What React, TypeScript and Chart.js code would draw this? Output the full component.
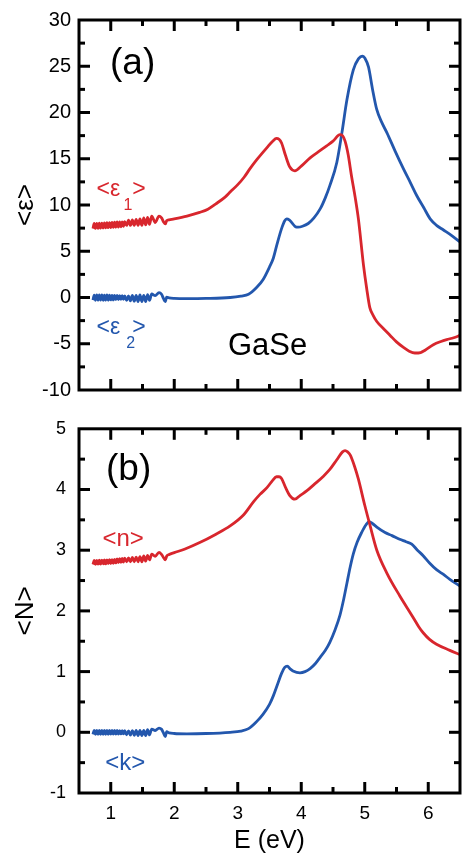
import React, { useEffect, useRef } from "react";
import { Chart, registerables } from "chart.js";
Chart.register(...registerables);

const RED = "#d8262d";
const BLUE = "#2357ad";
const FONT = "'Liberation Sans', Arial, Helvetica, sans-serif";

// shared low-energy grid (interference-fringe region)
const E_LOW = [0.72, 0.74, 0.76, 0.78, 0.8, 0.82, 0.84, 0.86, 0.88, 0.9, 0.92, 0.94, 0.96, 0.98, 1.0, 1.02, 1.04, 1.06, 1.08, 1.1, 1.12, 1.14, 1.16, 1.18, 1.2, 1.22,
  1.25, 1.28, 1.31, 1.34, 1.37, 1.4, 1.43, 1.46, 1.49, 1.52, 1.55, 1.58, 1.61, 1.645, 1.7, 1.76, 1.8, 1.83, 1.86, 1.88, 1.92, 2.0];

const EPS1_LOW = [7.45, 8.0, 7.47, 8.02, 7.48, 8.03, 7.5, 8.05, 7.52, 8.07, 7.53, 8.08, 7.55, 8.1, 7.57, 8.12, 7.58, 8.14, 7.6, 8.16, 7.62, 8.17, 7.65, 8.18, 7.7, 8.2,
  7.8, 8.35, 7.8, 8.4, 7.8, 8.45, 7.8, 8.5, 7.8, 8.6, 7.85, 8.65, 7.9, 8.8, 8.1, 8.8, 8.6, 8.2, 7.95, 8.3, 8.4, 8.5];
const E_EPS1_HI = [2.2, 2.4, 2.53, 2.65, 2.8, 2.88, 3.0, 3.1, 3.19, 3.3, 3.46, 3.55, 3.61, 3.65, 3.69, 3.75, 3.82, 3.9, 4.0, 4.14, 4.3, 4.4, 4.5, 4.61, 4.65, 4.69, 4.74, 4.79, 4.85, 4.9, 4.98, 5.03, 5.08, 5.13, 5.19, 5.3, 5.4, 5.5, 5.61, 5.7, 5.79, 5.88, 5.95, 6.08, 6.2, 6.29, 6.4, 6.5];
const EPS1_HI = [8.8, 9.2, 9.55, 10.1, 10.85, 11.4, 12.2, 13.0, 13.9, 14.9, 16.2, 16.9, 17.2, 17.1, 16.7, 15.4, 14.1, 13.7, 14.2, 15.1, 15.9, 16.4, 16.9, 17.6, 17.5, 16.9, 15.4, 13.2, 10.8, 8.5, 3.5, 1.0, -1.1, -1.9, -2.6, -3.4, -4.1, -4.8, -5.4, -5.8, -6.0, -5.95, -5.7, -5.1, -4.75, -4.55, -4.35, -4.1];

const EPS2_LOW = [-0.28, 0.25, -0.3, 0.27, -0.3, 0.27, -0.28, 0.27, -0.3, 0.25, -0.28, 0.27, -0.28, 0.25, -0.26, 0.23, -0.26, 0.23, -0.24, 0.22, -0.22, 0.2, -0.2, 0.2, -0.2, 0.18,
  -0.3, 0.18, -0.35, 0.22, -0.4, 0.22, -0.45, 0.27, -0.45, 0.22, -0.45, 0.32, -0.32, 0.38, 0.2, 0.52, 0.35, -0.1, -0.45, 0.05, -0.05, -0.1];
const E_EPS2_HI = [2.2, 2.5, 2.88, 3.05, 3.17, 3.3, 3.4, 3.5, 3.56, 3.62, 3.69, 3.74, 3.77, 3.81, 3.85, 3.9, 3.95, 4.02, 4.11, 4.2, 4.3, 4.38, 4.45, 4.56, 4.64, 4.72, 4.82, 4.9, 4.97, 5.0, 5.06, 5.12, 5.19, 5.27, 5.35, 5.48, 5.61, 5.72, 5.82, 5.93, 6.03, 6.13, 6.24, 6.37, 6.5];
const EPS2_HI = [-0.12, -0.1, 0.0, 0.15, 0.35, 1.1, 1.95, 3.3, 4.25, 5.8, 7.45, 8.3, 8.5, 8.4, 8.1, 7.7, 7.6, 7.7, 8.0, 8.6, 9.6, 10.8, 12.1, 14.6, 17.8, 21.4, 24.6, 25.8, 26.1, 25.9, 24.9, 22.6, 20.3, 18.9, 17.8, 15.8, 13.9, 12.4, 11.0, 9.7, 8.5, 7.8, 7.3, 6.7, 6.0];

const N_LOW = [2.765, 2.83, 2.765, 2.83, 2.77, 2.835, 2.77, 2.835, 2.775, 2.84, 2.775, 2.84, 2.78, 2.845, 2.78, 2.845, 2.785, 2.85, 2.79, 2.855, 2.795, 2.86, 2.8, 2.865, 2.805, 2.87,
  2.81, 2.875, 2.81, 2.88, 2.81, 2.885, 2.81, 2.895, 2.81, 2.905, 2.82, 2.915, 2.84, 2.935, 2.9, 2.965, 2.93, 2.88, 2.84, 2.9, 2.93, 2.96];
const E_N_HI = [2.17, 2.41, 2.65, 2.88, 3.09, 3.25, 3.35, 3.46, 3.55, 3.61, 3.65, 3.69, 3.75, 3.82, 3.9, 3.98, 4.09, 4.2, 4.35, 4.45, 4.56, 4.65, 4.69, 4.73, 4.77, 4.84, 4.9, 5.0, 5.08, 5.19, 5.35, 5.55, 5.74, 5.85, 5.92, 6.02, 6.13, 6.34, 6.5];
const N_HI = [3.02, 3.13, 3.26, 3.4, 3.58, 3.8, 3.92, 4.03, 4.15, 4.21, 4.21, 4.18, 4.04, 3.9, 3.84, 3.9, 3.98, 4.08, 4.22, 4.33, 4.49, 4.62, 4.64, 4.62, 4.57, 4.38, 4.17, 3.74, 3.42, 3.0, 2.62, 2.25, 1.93, 1.74, 1.64, 1.53, 1.45, 1.35, 1.28];

const K_LOW = [-0.033, 0.033, -0.033, 0.033, -0.033, 0.033, -0.033, 0.033, -0.033, 0.033, -0.032, 0.032, -0.032, 0.032, -0.031, 0.031, -0.03, 0.03, -0.03, 0.03, -0.028, 0.028, -0.027, 0.027, -0.026, 0.026,
  -0.04, 0.022, -0.045, 0.028, -0.05, 0.033, -0.055, 0.033, -0.055, 0.033, -0.055, 0.043, -0.043, 0.053, 0.03, 0.07, 0.05, -0.01, -0.07, 0.01, -0.01, -0.02];
const E_K_HI = [2.2, 2.5, 2.88, 3.05, 3.17, 3.3, 3.4, 3.5, 3.56, 3.63, 3.69, 3.74, 3.78, 3.83, 3.87, 3.98, 4.06, 4.14, 4.22, 4.3, 4.38, 4.45, 4.53, 4.61, 4.67, 4.72, 4.77, 4.82, 4.88, 4.95, 5.02, 5.07, 5.12, 5.19, 5.32, 5.43, 5.55, 5.65, 5.74, 5.83, 5.92, 6.02, 6.13, 6.24, 6.34, 6.5];
const K_HI = [-0.025, -0.02, 0.0, 0.02, 0.06, 0.18, 0.3, 0.46, 0.6, 0.8, 0.97, 1.07, 1.09, 1.04, 1.01, 0.98, 1.0, 1.05, 1.13, 1.24, 1.35, 1.48, 1.68, 1.93, 2.2, 2.46, 2.72, 2.94, 3.13, 3.29, 3.42, 3.47, 3.44, 3.38, 3.29, 3.24, 3.18, 3.14, 3.1, 3.0, 2.91, 2.79, 2.68, 2.6, 2.52, 2.41];

const X_TICKS = [1, 2, 3, 4, 5, 6];
const X_MINOR = [1.5, 2.5, 3.5, 4.5, 5.5];
const EPS_TICKS = [-10, -5, 0, 5, 10, 15, 20, 25, 30];
const EPS_MINOR = [-7.5, -2.5, 2.5, 7.5, 12.5, 17.5, 22.5, 27.5];
const N_TICKS = [-1, 0, 1, 2, 3, 4, 5];
const N_MINOR = [-0.5, 0.5, 1.5, 2.5, 3.5, 4.5];

type Label = { text: string; x: number; y: number; size: number; color: string };

const TOP_LABELS: Label[] = [
  { text: "(a)", x: 0.988, y: 24.2, size: 37, color: "#000" },
  { text: "GaSe", x: 2.846, y: -6.26, size: 31, color: "#000" },
  { text: "<ε", x: 0.776, y: 11.0, size: 23, color: RED },
  { text: "1", x: 1.2, y: 9.465, size: 16, color: RED },
  { text: ">", x: 1.34, y: 11.0, size: 23, color: RED },
  { text: "<ε", x: 0.776, y: -3.95, size: 23, color: BLUE },
  { text: "2", x: 1.245, y: -5.51, size: 16, color: BLUE },
  { text: ">", x: 1.34, y: -3.95, size: 23, color: BLUE },
];
const BOTTOM_LABELS: Label[] = [
  { text: "(b)", x: 0.925, y: 4.16, size: 37, color: "#000" },
  { text: "<n>", x: 0.87, y: 3.064, size: 24, color: RED },
  { text: "<k>", x: 0.915, y: -0.616, size: 24, color: BLUE },
];

function toXY(xs: number[], ys: number[]) {
  return xs.map((x, i) => ({ x, y: ys[i] }));
}

function framePlugin(yMajor: number[], yMinor: number[]) {
  return {
    id: "frameTicks",
    afterDatasetsDraw(chart: any) {
      const { ctx, chartArea: a, scales } = chart;
      const xs = scales.x;
      const ys = scales.y;
      ctx.save();
      ctx.strokeStyle = "#000";
      ctx.lineWidth = 3;
      ctx.lineCap = "butt";
      const seg = (x1: number, y1: number, x2: number, y2: number) => {
        ctx.beginPath();
        ctx.moveTo(x1, y1);
        ctx.lineTo(x2, y2);
        ctx.stroke();
      };
      const xt = (vals: number[], len: number) =>
        vals.forEach((v) => {
          const p = xs.getPixelForValue(v);
          seg(p, a.bottom, p, a.bottom - len);
          seg(p, a.top, p, a.top + len);
        });
      const yt = (vals: number[], len: number) =>
        vals.forEach((v) => {
          const p = ys.getPixelForValue(v);
          if (p <= a.top + 1 || p >= a.bottom - 1) return;
          seg(a.left, p, a.left + len, p);
          seg(a.right, p, a.right - len, p);
        });
      xt(X_TICKS, 11);
      xt(X_MINOR, 6);
      yt(yMajor, 11);
      yt(yMinor, 6);
      ctx.strokeRect(a.left, a.top, a.right - a.left, a.bottom - a.top);
      ctx.restore();
    },
  };
}

function labelPlugin(labels: Label[]) {
  return {
    id: "textLabels",
    afterDraw(chart: any) {
      const { ctx, scales } = chart;
      ctx.save();
      ctx.textAlign = "left";
      ctx.textBaseline = "alphabetic";
      labels.forEach((l) => {
        ctx.font = `${l.size}px ${FONT}`;
        ctx.fillStyle = l.color;
        ctx.fillText(l.text, scales.x.getPixelForValue(l.x), scales.y.getPixelForValue(l.y));
      });
      ctx.restore();
    },
  };
}

const lineStyle = (color: string) => ({
  borderColor: color,
  backgroundColor: color,
  borderWidth: 2.8,
  pointRadius: 0,
  fill: false,
  cubicInterpolationMode: "monotone" as const,
});

function topConfig(): any {
  return {
    type: "line",
    data: {
      datasets: [
        { label: "<ε1>", data: toXY([...E_LOW, ...E_EPS1_HI], [...EPS1_LOW, ...EPS1_HI]), ...lineStyle(RED) },
        { label: "<ε2>", data: toXY([...E_LOW, ...E_EPS2_HI], [...EPS2_LOW, ...EPS2_HI]), ...lineStyle(BLUE) },
      ],
    },
    options: {
      responsive: false,
      animation: false,
      events: [],
      layout: { padding: { left: 0, right: 3, top: 16, bottom: 0 } },
      plugins: { legend: { display: false }, tooltip: { enabled: false } },
      scales: {
        x: {
          type: "linear",
          min: 0.5,
          max: 6.5,
          afterBuildTicks: (s: any) => { s.ticks = X_TICKS.map((v) => ({ value: v })); },
          ticks: { display: false },
          grid: { display: false, drawTicks: false },
          border: { display: false },
          afterFit: (s: any) => { s.height = 20; },
        },
        y: {
          type: "linear",
          min: -10,
          max: 30,
          afterBuildTicks: (s: any) => { s.ticks = EPS_TICKS.map((v) => ({ value: v })); },
          ticks: { autoSkip: false, color: "#000", padding: 8, font: { family: FONT, size: 20 } },
          grid: { display: false, drawTicks: false },
          border: { display: false },
          title: { display: true, text: "<ε>", color: "#000", font: { family: FONT, size: 26 }, padding: { top: 10, bottom: 0 } },
          afterFit: (s: any) => { s.width = 79; },
        },
      },
    },
    plugins: [framePlugin(EPS_TICKS, EPS_MINOR), labelPlugin(TOP_LABELS)],
  };
}

function bottomConfig(): any {
  return {
    type: "line",
    data: {
      datasets: [
        { label: "<n>", data: toXY([...E_LOW, ...E_N_HI], [...N_LOW, ...N_HI]), ...lineStyle(RED) },
        { label: "<k>", data: toXY([...E_LOW, ...E_K_HI], [...K_LOW, ...K_HI]), ...lineStyle(BLUE) },
      ],
    },
    options: {
      responsive: false,
      animation: false,
      events: [],
      layout: { padding: { left: 0, right: 3, top: 13, bottom: 0 } },
      plugins: { legend: { display: false }, tooltip: { enabled: false } },
      scales: {
        x: {
          type: "linear",
          min: 0.5,
          max: 6.5,
          afterBuildTicks: (s: any) => { s.ticks = X_TICKS.map((v) => ({ value: v })); },
          ticks: { autoSkip: false, maxRotation: 0, color: "#000", padding: 9, font: { family: FONT, size: 19 } },
          grid: { display: false, drawTicks: false },
          border: { display: false },
          title: { display: true, text: "E (eV)", color: "#000", font: { family: FONT, size: 25 }, padding: { top: 0, bottom: 0 } },
          afterFit: (s: any) => { s.height = 63; },
        },
        y: {
          type: "linear",
          min: -1,
          max: 5,
          afterBuildTicks: (s: any) => { s.ticks = N_TICKS.map((v) => ({ value: v })); },
          ticks: { autoSkip: false, color: "#000", padding: 13, font: { family: FONT, size: 18 } },
          grid: { display: false, drawTicks: false },
          border: { display: false },
          title: { display: true, text: "<N>", color: "#000", font: { family: FONT, size: 26 }, padding: { top: 10, bottom: 0 } },
          afterFit: (s: any) => { s.width = 79; },
        },
      },
    },
    plugins: [framePlugin(N_TICKS, N_MINOR), labelPlugin(BOTTOM_LABELS)],
  };
}

function ChartCanvas({ top, height, makeConfig }: { top: number; height: number; makeConfig: () => any }) {
  const ref = useRef<HTMLCanvasElement>(null);
  useEffect(() => {
    const chart = new Chart(ref.current as HTMLCanvasElement, makeConfig());
    return () => chart.destroy();
  }, []);
  return (
    <canvas
      ref={ref}
      width={463}
      height={height}
      style={{ position: "absolute", left: 0, top, width: 463, height, display: "block" }}
    />
  );
}

export default function App() {
  return (
    <div style={{ position: "fixed", left: 0, top: 0, width: 463, height: 856, background: "#fff" }}>
      <ChartCanvas top={0} height={410} makeConfig={topConfig} />
      <ChartCanvas top={405} height={451} makeConfig={bottomConfig} />
    </div>
  );
}
